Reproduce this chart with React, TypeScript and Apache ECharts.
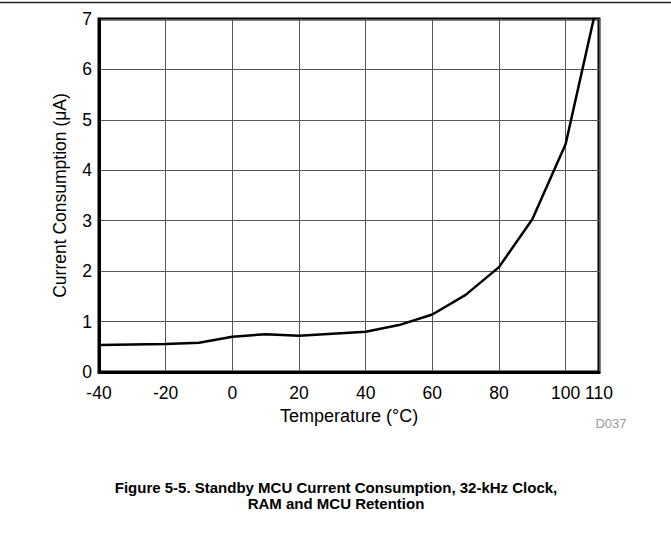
import React, { useEffect, useRef } from "react";
import * as echarts from "echarts";

const temperatures = [-40, -30, -20, -10, 0, 10, 20, 30, 40, 50, 60, 70, 80, 90, 100, 110];
const currents = [0.535, 0.545, 0.555, 0.58, 0.7, 0.75, 0.72, 0.76, 0.8, 0.93, 1.14, 1.53, 2.08, 3.03, 4.52, 7.47];
const xTitle = "Temperature (°C)";
const yTitle = "Current Consumption (μA)";
const figTitle = "Figure 5-5. Standby MCU Current Consumption, 32-kHz Clock,\nRAM and MCU Retention";
const figCode = "D037";

export default function App() {
  const ref = useRef<HTMLDivElement>(null);
  useEffect(() => {
    if (!ref.current) return;
    const chart = echarts.init(ref.current, null, { renderer: "svg" });
    const font = "'Liberation Sans', Arial, sans-serif";
    chart.setOption({
      animation: false,
      backgroundColor: "#fff",
      grid: {
        left: 99,
        top: 19,
        right: 72,
        bottom: 163,
        show: true,
        borderColor: "#000",
        borderWidth: 3,
        backgroundColor: "transparent",
      },
      xAxis: {
        type: "value",
        min: -40,
        max: 110,
        interval: 20,
        name: xTitle,
        nameLocation: "middle",
        nameGap: 31,
        nameTextStyle: { fontFamily: font, fontSize: 18, color: "#000" },
        axisLine: { show: true, onZero: false, lineStyle: { color: "#000", width: 3 } },
        axisTick: { show: false },
        axisLabel: { fontFamily: font, fontSize: 17.5, color: "#000", margin: 12 },
        splitLine: { show: true, lineStyle: { color: "#555", width: 1 } },
      },
      yAxis: {
        type: "value",
        min: 0,
        max: 7,
        interval: 1,
        name: yTitle,
        nameLocation: "middle",
        nameGap: 30,
        nameTextStyle: { fontFamily: font, fontSize: 17.5, color: "#000" },
        axisLine: { show: true, onZero: false, lineStyle: { color: "#000", width: 3 } },
        axisTick: { show: false },
        axisLabel: { fontFamily: font, fontSize: 17.5, color: "#000", margin: 7 },
        splitLine: { show: true, lineStyle: { color: "#555", width: 1 } },
      },
      series: [
        {
          type: "line",
          data: temperatures.map((t, i) => [t, currents[i]]),
          showSymbol: false,
          clip: true,
          lineStyle: { color: "#000", width: 2.5 },
        },
      ],
      graphic: [
        { type: "line", shape: { x1: 0, y1: 2.5, x2: 671, y2: 2.5 }, style: { stroke: "#222", lineWidth: 1.5 } },
        {
          type: "text",
          x: 611,
          y: 423,
          style: { text: figCode, fontFamily: font, fontSize: 13, fill: "#999", align: "center", verticalAlign: "middle" },
        },
        {
          type: "text",
          x: 336,
          y: 495,
          style: {
            text: figTitle,
            fontFamily: font,
            fontSize: 15,
            lineHeight: 16,
            fontWeight: "bold",
            fill: "#000",
            align: "center",
            verticalAlign: "middle",
          },
        },
      ],
    });
    return () => chart.dispose();
  }, []);
  return (
    <div
      ref={ref}
      style={{ position: "fixed", left: 0, top: 0, width: 671, height: 535, background: "#fff" }}
    />
  );
}
